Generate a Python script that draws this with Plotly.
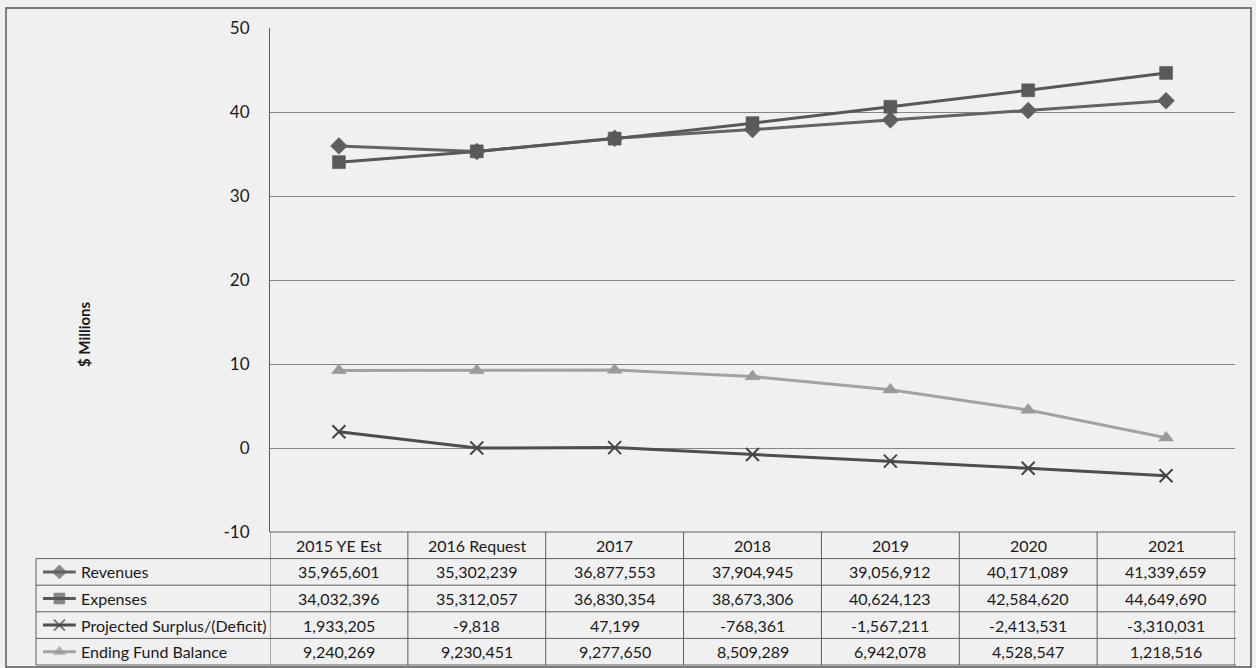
import plotly.graph_objects as go

categories = ["2015 YE Est", "2016 Request", "2017", "2018", "2019", "2020", "2021"]
revenues = [35965601, 35302239, 36877553, 37904945, 39056912, 40171089, 41339659]
expenses = [34032396, 35312057, 36830354, 38673306, 40624123, 42584620, 44649690]
surplus = [1933205, -9818, 47199, -768361, -1567211, -2413531, -3310031]
fund_balance = [9240269, 9230451, 9277650, 8509289, 6942078, 4528547, 1218516]
series_names = ["Revenues", "Expenses", "Projected Surplus/(Deficit)", "Ending Fund Balance"]
y_ticks = [-10, 0, 10, 20, 30, 40, 50]
y_tick_labels = ["-10", "0", "10", "20", "30", "40", "50"]

W, H = 1256, 668
def px(x):
    return x / W
def py(y):
    return 1 - y / H

FONT = "Lato"
TXT = "#1a1a1a"
series = [revenues, expenses, surplus, fund_balance]
styles = [
    dict(symbol="diamond", color="#5f5f5f", size=13, lc="#636363"),
    dict(symbol="square", color="#595959", size=13, lc="#585858"),
    dict(symbol="x-thin", color="#454545", size=13, lc="#4d4d4d"),
    dict(symbol="triangle-up", color="#9a9a9a", size=13, lc="#a2a2a2"),
]

plot_l, plot_r, plot_t, plot_b = 270, 1235, 28, 532
tbl_l, tbl_b = 36, 665
n_rows = 5
row_h = (tbl_b - plot_b) / n_rows
cat_idx = list(range(len(categories)))

fig = go.Figure()
for ri, (name, vals, st) in enumerate(zip(series_names, series, styles)):
    mk = dict(symbol=st["symbol"], size=st["size"], color=st["color"],
              line=dict(width=2 if st["symbol"] == "x-thin" else 0.5, color=st["color"]))
    fig.add_trace(go.Scatter(x=cat_idx, y=[v / 1e6 for v in vals], mode="lines+markers",
                             name=name, line=dict(color=st["lc"], width=3), marker=mk,
                             text=categories, showlegend=False, xaxis="x", yaxis="y"))
    mk2 = dict(mk)
    mk2["size"] = [0, st["size"] - 2, 0]
    fig.add_trace(go.Scatter(x=[0.03, 0.1, 0.17], y=[ri, ri, ri], mode="lines+markers",
                             line=dict(color=st["lc"], width=3), marker=mk2,
                             showlegend=False, xaxis="x2", yaxis="y2", hoverinfo="skip"))

shapes = []
ann = []
line_c = "#5e5e5e"
for k in range(n_rows + 1):
    yy = plot_b + k * row_h
    x0 = plot_l if k == 0 else tbl_l
    shapes.append(dict(type="line", xref="paper", yref="paper", x0=px(x0), x1=px(plot_r + 1),
                       y0=py(yy), y1=py(yy), line=dict(color=line_c, width=1)))
for k in range(len(categories) + 1):
    shapes.append(dict(type="line", xref="x", yref="paper", x0=k - 0.5, x1=k - 0.5,
                       y0=py(plot_b), y1=py(tbl_b), line=dict(color=line_c, width=1)))
shapes.append(dict(type="line", xref="paper", yref="paper", x0=px(tbl_l), x1=px(tbl_l),
                   y0=py(plot_b + row_h), y1=py(tbl_b), line=dict(color=line_c, width=1)))
shapes.append(dict(type="rect", xref="paper", yref="paper", x0=px(6), x1=px(1251), y0=py(667), y1=py(8),
                   line=dict(color="#555555", width=1.5)))

cell_font = dict(family=FONT, size=16, color=TXT)
for i, c in enumerate(categories):
    ann.append(dict(x=i, y=py(plot_b + row_h / 2), xref="x", yref="paper", text=c, showarrow=False,
                    xanchor="center", yanchor="middle", font=cell_font))
for ri, vals in enumerate(series):
    yc = py(plot_b + row_h * (ri + 1.5))
    for i, v in enumerate(vals):
        ann.append(dict(x=i, y=yc, xref="x", yref="paper", text=f"{v:,}", showarrow=False,
                        xanchor="center", yanchor="middle", font=cell_font))
    ann.append(dict(x=px(79), y=yc, xref="paper", yref="paper", text=series_names[ri], showarrow=False,
                    xanchor="left", yanchor="middle", font=cell_font))
ann.append(dict(x=px(84), y=py(334), xref="paper", yref="paper", text="<b>$ Millions</b>", textangle=-90,
                showarrow=False, xanchor="center", yanchor="middle",
                font=dict(family=FONT, size=15, color=TXT)))

fig.update_layout(
    template="none",
    width=W, height=H, margin=dict(l=0, r=0, t=0, b=0, pad=0, autoexpand=False),
    paper_bgcolor="#f0f0f0", plot_bgcolor="#f0f0f0",
    xaxis=dict(domain=[px(plot_l), px(plot_r)], range=[-0.5, 6.5], automargin=False,
               showticklabels=False, showgrid=False, zeroline=False, showline=False, fixedrange=True),
    yaxis=dict(domain=[py(plot_b), py(plot_t)], range=[-10, 50], tickvals=y_ticks, ticktext=y_tick_labels,
               showgrid=True, gridcolor="#858585", gridwidth=1, zeroline=False, automargin=False,
               showline=True, linecolor="#5e5e5e", linewidth=1, ticks="", ticklen=0,
               ticklabelstandoff=16, fixedrange=True,
               tickfont=dict(family=FONT, size=17, color=TXT)),
    xaxis2=dict(domain=[px(tbl_l), px(plot_l)], range=[0, 1], visible=False, fixedrange=True, automargin=False),
    yaxis2=dict(domain=[py(tbl_b), py(plot_b + row_h)], range=[3.5, -0.5], visible=False, fixedrange=True,
                automargin=False),
    shapes=shapes, annotations=ann,
)
fig.write_html("out.html", config={"displayModeBar": False},
               post_script="document.body.style.margin='0';document.body.style.overflow='hidden';")
